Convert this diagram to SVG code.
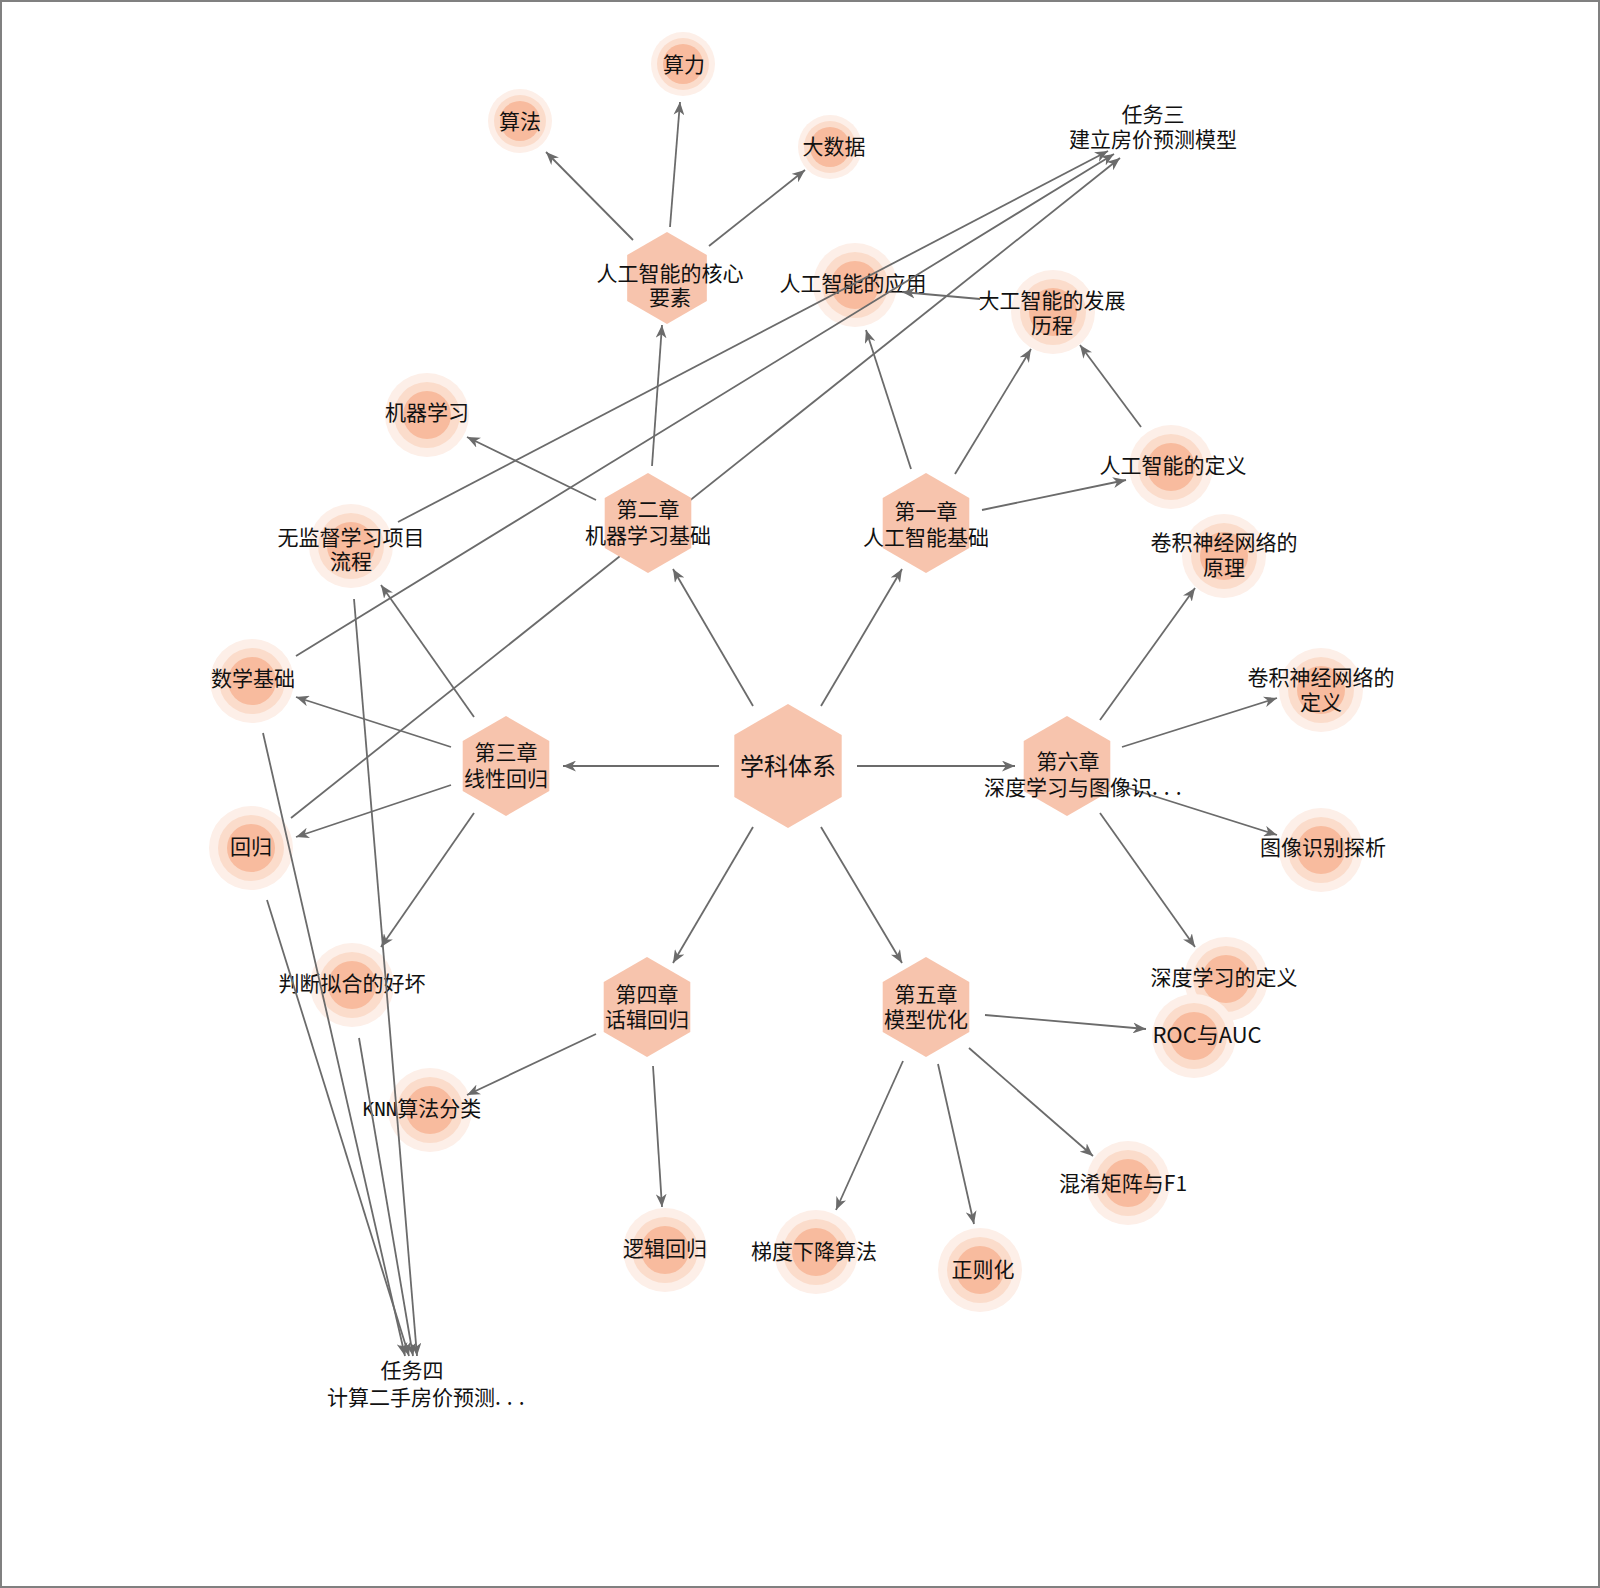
<svg xmlns="http://www.w3.org/2000/svg" width="1600" height="1588" viewBox="0 0 1600 1588">
<style>
text{font-family:"Noto Sans CJK SC","Noto Sans",sans-serif;font-size:21px;fill:#111;text-anchor:middle}
.core{font-size:24px}
.e{stroke:#6b6b6b;stroke-width:1.8;fill:none;marker-end:url(#arr)}
.hx{fill:#F7C4AD}
.c1{fill:#FDEFE8}
.c2{fill:#FBDCCB}
.c3{fill:#F8BB9E}
.dots{letter-spacing:6px}
</style>
<defs>
<marker id="arr" viewBox="0 0 12 10" refX="12" refY="5" markerWidth="13" markerHeight="11" markerUnits="userSpaceOnUse" orient="auto">
<path d="M0,0 L12,5 L0,10 L3.5,5 Z" fill="#6b6b6b"/>
</marker>
<polygon id="hex" points="0,-50 43.3,-25 43.3,25 0,50 -43.3,25 -43.3,-25"/>
<g id="ring">
<circle r="42" class="c1"/><circle r="33" class="c2"/><circle r="24" class="c3"/>
</g>
<g id="ringS">
<circle r="32" class="c1"/><circle r="26" class="c2"/><circle r="20" class="c3"/>
</g>
</defs>
<rect x="1" y="1" width="1598" height="1586" fill="#fff" stroke="#808080" stroke-width="2"/>

<g id="n-suanfa"><use href="#ringS" x="520" y="121"/><text x="520" y="129">算法</text></g>
<g id="n-suanli"><use href="#ringS" x="683" y="64"/><text x="684" y="72">算力</text></g>
<g id="n-dashuju"><use href="#ringS" x="830" y="147"/><text x="834" y="154">大数据</text></g>
<g id="n-yingyong"><use href="#ring" x="855" y="285"/><text x="853" y="291">人工智能的应用</text></g>
<g id="n-fazhan"><use href="#ring" x="1053" y="312"/><text x="1052" y="308">大工智能的发展<tspan x="1052" dy="25">历程</tspan></text></g>
<g id="n-jiqixuexi"><use href="#ring" x="427" y="415"/><text x="427" y="420">机器学习</text></g>
<g id="n-wujiandu"><use href="#ring" x="351" y="546"/><text x="351" y="545">无监督学习项目<tspan x="351" dy="24">流程</tspan></text></g>
<g id="n-dingyi"><use href="#ring" x="1171" y="467"/><text x="1173" y="473">人工智能的定义</text></g>
<g id="n-yuanli"><use href="#ring" x="1224" y="556"/><text x="1224" y="550">卷积神经网络的<tspan x="1224" dy="25">原理</tspan></text></g>
<g id="n-juanji-dingyi"><use href="#ring" x="1321" y="690"/><text x="1321" y="685">卷积神经网络的<tspan x="1321" dy="25">定义</tspan></text></g>
<g id="n-shuxue"><use href="#ring" x="252" y="681"/><text x="253" y="686">数学基础</text></g>
<g id="n-huigui"><use href="#ring" x="251" y="848"/><text x="251" y="854">回归</text></g>
<g id="n-tuxiang"><use href="#ring" x="1321" y="850"/><text x="1323" y="855">图像识别探析</text></g>
<g id="n-panduan"><use href="#ring" x="352" y="985"/><text x="352" y="991">判断拟合的好坏</text></g>
<g id="n-shendu"><use href="#ring" x="1226" y="979"/><text x="1224" y="985">深度学习的定义</text></g>
<g id="n-roc"><use href="#ring" x="1194" y="1036"/><text x="1207" y="1043" style="font-size:22px">ROC与AUC</text></g>
<g id="n-knn"><use href="#ring" x="430" y="1110"/><text x="422" y="1116"><tspan style="font-family:'DejaVu Sans Mono',monospace;font-size:19px">KNN</tspan>算法分类</text></g>
<g id="n-hunxiao"><use href="#ring" x="1128" y="1183"/><text x="1123" y="1191">混淆矩阵与F1</text></g>
<g id="n-luoji"><use href="#ring" x="665" y="1250"/><text x="665" y="1256">逻辑回归</text></g>
<g id="n-tidu"><use href="#ring" x="816" y="1252"/><text x="814" y="1259">梯度下降算法</text></g>
<g id="n-zhengze"><use href="#ring" x="980" y="1270"/><text x="983" y="1277">正则化</text></g>
<g id="n-task3"><text x="1153" y="122">任务三<tspan x="1153" dy="25">建立房价预测模型</tspan></text></g>
<g id="n-task4"><text x="412" y="1378">任务四<tspan x="327" dy="27" style="text-anchor:start">计算二手房价预测</tspan><tspan class="dots">...</tspan></text></g>

<g id="connectors">
<line class="e" x1="719" y1="766" x2="563" y2="766"/>
<line class="e" x1="857" y1="766" x2="1015" y2="766"/>
<line class="e" x1="753" y1="706" x2="673" y2="569"/>
<line class="e" x1="821" y1="706" x2="902" y2="569"/>
<line class="e" x1="753" y1="827" x2="673" y2="963"/>
<line class="e" x1="821" y1="827" x2="902" y2="963"/>
<line class="e" x1="911" y1="469" x2="866" y2="330"/>
<line class="e" x1="955" y1="474" x2="1031" y2="349"/>
<line class="e" x1="982" y1="510" x2="1126" y2="480"/>
<line class="e" x1="1141" y1="427" x2="1080" y2="345"/>
<line class="e" x1="980" y1="299" x2="902" y2="292"/>
<line class="e" x1="652" y1="466" x2="662" y2="325"/>
<line class="e" x1="596" y1="500" x2="467" y2="437"/>
<line class="e" x1="633" y1="240" x2="546" y2="152"/>
<line class="e" x1="670" y1="227" x2="680" y2="102"/>
<line class="e" x1="709" y1="246" x2="805" y2="170"/>
<line class="e" x1="474" y1="717" x2="381" y2="585"/>
<line class="e" x1="451" y1="747" x2="296" y2="697"/>
<line class="e" x1="451" y1="785" x2="296" y2="837"/>
<line class="e" x1="474" y1="813" x2="381" y2="947"/>
<line class="e" x1="596" y1="1034" x2="467" y2="1095"/>
<line class="e" x1="653" y1="1066" x2="662" y2="1207"/>
<line class="e" x1="985" y1="1015" x2="1146" y2="1029"/>
<line class="e" x1="969" y1="1048" x2="1093" y2="1156"/>
<line class="e" x1="938" y1="1064" x2="974" y2="1224"/>
<line class="e" x1="903" y1="1061" x2="836" y2="1210"/>
<line class="e" x1="1100" y1="720" x2="1195" y2="588"/>
<line class="e" x1="1122" y1="747" x2="1277" y2="698"/>
<line class="e" x1="1122" y1="786" x2="1277" y2="835"/>
<line class="e" x1="1100" y1="813" x2="1195" y2="947"/>
<line class="e" x1="398" y1="522" x2="1108" y2="151"/>
<line class="e" x1="296" y1="656" x2="1114" y2="154"/>
<line class="e" x1="291" y1="818" x2="1120" y2="158"/>
<line class="e" x1="263" y1="733" x2="405" y2="1356"/>
<line class="e" x1="267" y1="900" x2="409" y2="1356"/>
<line class="e" x1="359" y1="1038" x2="413" y2="1356"/>
<line class="e" x1="354" y1="599" x2="417" y2="1356"/>
</g>

<g id="n-core"><use href="#hex" class="hx" transform="translate(788,766) scale(1.24)"/><text class="core" x="788" y="775">学科体系</text></g>
<g id="n-hexin"><use href="#hex" class="hx" transform="translate(667,278) scale(0.92)"/><text x="670" y="281">人工智能的核心<tspan x="670" dy="24">要素</tspan></text></g>
<g id="n-ch1"><use href="#hex" class="hx" transform="translate(926,523)"/><text x="926" y="519">第一章<tspan x="926" dy="26">人工智能基础</tspan></text></g>
<g id="n-ch2"><use href="#hex" class="hx" transform="translate(648,523)"/><text x="648" y="517">第二章<tspan x="648" dy="26">机器学习基础</tspan></text></g>
<g id="n-ch3"><use href="#hex" class="hx" transform="translate(506,766)"/><text x="506" y="760">第三章<tspan x="506" dy="26">线性回归</tspan></text></g>
<g id="n-ch4"><use href="#hex" class="hx" transform="translate(647,1007)"/><text x="647" y="1002">第四章<tspan x="647" dy="25">话辑回归</tspan></text></g>
<g id="n-ch5"><use href="#hex" class="hx" transform="translate(926,1007)"/><text x="926" y="1002">第五章<tspan x="926" dy="25">模型优化</tspan></text></g>
<g id="n-ch6"><use href="#hex" class="hx" transform="translate(1067,766)"/><text x="1068" y="769">第六章<tspan x="984" dy="26" style="text-anchor:start">深度学习与图像识</tspan><tspan class="dots">...</tspan></text></g>
</svg>
